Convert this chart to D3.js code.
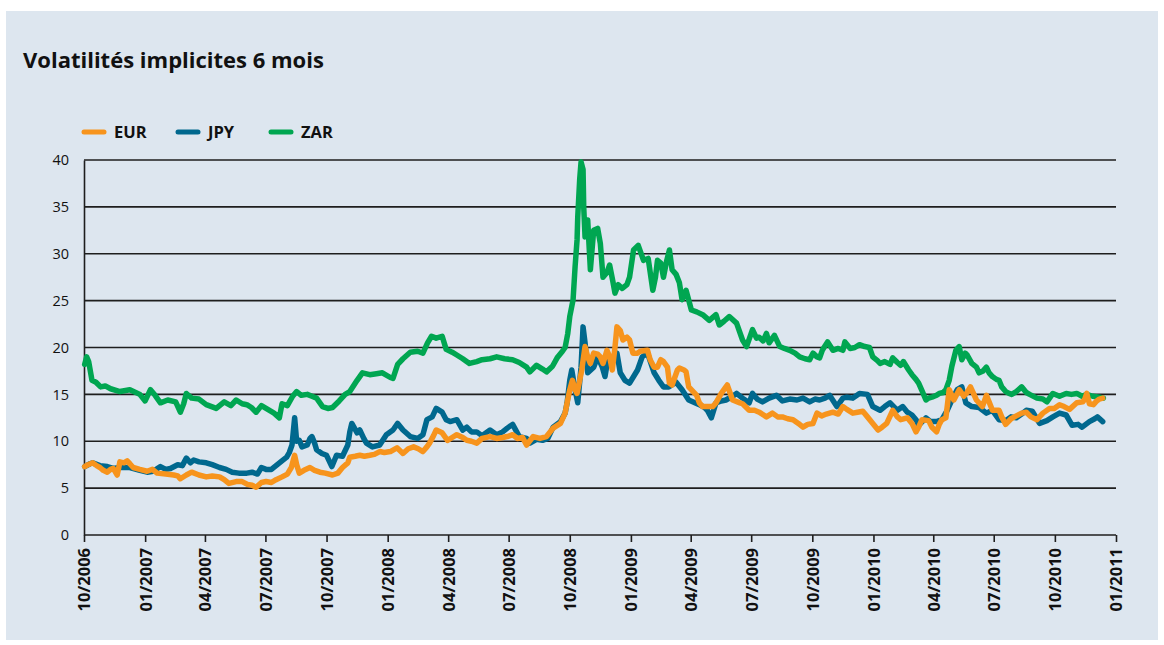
<!DOCTYPE html>
<html><head><meta charset="utf-8">
<script src="https://cdn.jsdelivr.net/npm/d3@7/dist/d3.min.js"></script>
<style>
body{margin:0;background:#fff}
svg{display:block}
text{font-family:"Open Sans","Noto Sans",sans-serif;fill:#111}
</style>
</head><body>
<svg id="chart" width="1164" height="645"></svg>
<script>
const title = "Volatilités implicites 6 mois";
const seriesNames = ["EUR", "JPY", "ZAR"];
const yTickValues = [0, 5, 10, 15, 20, 25, 30, 35, 40];
const xTickDates = ["2006-10-01","2007-01-01","2007-04-01","2007-07-01","2007-10-01","2008-01-01","2008-04-01","2008-07-01","2008-10-01","2009-01-01","2009-04-01","2009-07-01","2009-10-01","2010-01-01","2010-04-01","2010-07-01","2010-10-01","2011-01-01"];
const xTickLabels = ["10/2006","01/2007","04/2007","07/2007","10/2007","01/2008","04/2008","07/2008","10/2008","01/2009","04/2009","07/2009","10/2009","01/2010","04/2010","07/2010","10/2010","01/2011"];

const zar = [
["2006-10-02",18.2],["2006-10-05",19.0],["2006-10-08",18.5],["2006-10-13",16.5],["2006-10-19",16.3],["2006-10-26",15.8],
["2006-11-02",15.9],["2006-11-10",15.6],["2006-11-24",15.3],["2006-12-09",15.5],["2006-12-24",15.0],
["2007-01-01",14.3],["2007-01-09",15.5],["2007-01-16",14.9],["2007-01-24",14.1],["2007-02-04",14.4],["2007-02-16",14.2],["2007-02-23",13.1],["2007-02-28",14.0],
["2007-03-04",15.1],["2007-03-12",14.6],["2007-03-23",14.5],["2007-04-03",13.9],["2007-04-18",13.5],["2007-04-30",14.2],
["2007-05-10",13.8],["2007-05-18",14.4],["2007-05-27",14.0],["2007-06-03",13.9],["2007-06-10",13.6],["2007-06-17",13.1],["2007-06-25",13.8],
["2007-07-02",13.5],["2007-07-14",13.0],["2007-07-22",12.5],["2007-07-26",14.0],["2007-08-03",13.8],["2007-08-11",14.8],["2007-08-17",15.3],["2007-08-24",14.9],
["2007-09-02",15.0],["2007-09-09",14.8],["2007-09-16",14.6],["2007-09-25",13.7],["2007-10-03",13.5],["2007-10-10",13.6],["2007-10-20",14.3],["2007-10-29",15.0],
["2007-11-05",15.3],["2007-11-16",16.5],["2007-11-24",17.3],["2007-12-05",17.1],["2007-12-15",17.2],["2007-12-24",17.3],
["2008-01-05",16.8],["2008-01-09",16.7],["2008-01-16",18.2],["2008-01-24",18.8],["2008-02-04",19.5],["2008-02-15",19.6],["2008-02-23",19.4],
["2008-03-01",20.5],["2008-03-07",21.2],["2008-03-14",21.0],["2008-03-23",21.2],["2008-03-29",19.8],["2008-04-07",19.5],["2008-04-14",19.2],["2008-04-23",18.8],
["2008-05-03",18.3],["2008-05-14",18.5],["2008-05-22",18.7],["2008-06-03",18.8],["2008-06-13",19.0],["2008-06-25",18.8],
["2008-07-07",18.7],["2008-07-17",18.4],["2008-07-28",17.9],["2008-08-02",17.4],["2008-08-12",18.1],["2008-08-21",17.7],["2008-08-27",17.4],
["2008-09-05",18.0],["2008-09-12",18.9],["2008-09-20",19.6],["2008-09-24",20.0],["2008-09-28",21.5],
["2008-10-01",23.3],["2008-10-06",25.1],["2008-10-09",28.6],["2008-10-12",31.5],["2008-10-13",33.9],["2008-10-16",38.0],["2008-10-18",39.8],["2008-10-21",39.0],["2008-10-22",35.0],["2008-10-24",31.8],["2008-10-28",33.6],
["2008-11-01",28.3],["2008-11-06",32.5],["2008-11-12",32.7],["2008-11-16",31.1],["2008-11-20",27.5],["2008-11-26",28.0],["2008-11-30",28.8],
["2008-12-05",27.0],["2008-12-08",25.8],["2008-12-13",26.7],["2008-12-19",26.3],["2008-12-26",26.7],["2008-12-30",27.5],
["2009-01-05",30.4],["2009-01-12",30.9],["2009-01-20",29.3],["2009-01-27",29.5],["2009-02-03",26.1],["2009-02-07",27.5],["2009-02-10",29.3],["2009-02-15",29.0],["2009-02-19",27.5],["2009-02-24",29.3],["2009-02-28",30.4],
["2009-03-04",28.3],["2009-03-10",27.8],["2009-03-15",26.9],["2009-03-19",25.1],["2009-03-25",26.1],["2009-04-02",24.0],["2009-04-10",23.8],["2009-04-19",23.5],["2009-04-29",22.9],
["2009-05-09",23.5],["2009-05-14",22.4],["2009-05-21",22.8],["2009-05-29",23.3],["2009-06-09",22.6],["2009-06-18",20.8],["2009-06-24",20.1],
["2009-07-03",21.9],["2009-07-09",21.0],["2009-07-13",21.1],["2009-07-19",20.7],["2009-07-24",21.5],["2009-07-28",20.5],["2009-08-05",21.3],["2009-08-13",20.1],["2009-08-20",19.9],["2009-08-28",19.7],
["2009-09-05",19.4],["2009-09-12",19.0],["2009-09-20",18.8],["2009-09-27",18.7],["2009-10-02",19.4],["2009-10-08",19.0],["2009-10-12",18.9],["2009-10-16",19.7],["2009-10-24",20.6],
["2009-11-01",19.7],["2009-11-09",19.9],["2009-11-16",19.7],["2009-11-19",20.6],["2009-11-27",19.9],["2009-12-04",20.0],["2009-12-11",20.3],["2009-12-19",20.1],["2009-12-26",20.0],["2009-12-31",19.0],
["2010-01-07",18.6],["2010-01-11",18.3],["2010-01-18",18.5],["2010-01-26",18.2],["2010-01-30",18.9],["2010-02-06",18.4],["2010-02-11",18.1],["2010-02-15",18.5],["2010-02-23",17.6],["2010-02-28",17.1],
["2010-03-06",16.6],["2010-03-10",16.2],["2010-03-15",15.4],["2010-03-21",14.4],["2010-03-25",14.6],["2010-03-30",14.7],["2010-04-06",14.9],["2010-04-10",15.1],["2010-04-16",15.2],["2010-04-20",15.5],["2010-04-25",16.5],["2010-04-29",18.0],
["2010-05-05",19.7],["2010-05-10",20.1],["2010-05-14",18.7],["2010-05-19",19.4],["2010-05-22",19.2],["2010-05-29",18.3],["2010-06-05",17.9],["2010-06-09",17.3],["2010-06-15",17.5],["2010-06-20",17.9],["2010-06-24",17.3],["2010-06-29",16.9],
["2010-07-05",16.6],["2010-07-09",16.5],["2010-07-13",15.8],["2010-07-19",15.3],["2010-07-24",15.1],["2010-07-28",15.0],["2010-08-04",15.3],["2010-08-12",15.8],["2010-08-19",15.2],["2010-08-24",15.0],
["2010-09-04",14.6],["2010-09-13",14.5],["2010-09-19",14.2],["2010-09-28",15.1],["2010-10-08",14.8],["2010-10-18",15.1],["2010-10-26",15.0],["2010-11-03",15.1],["2010-11-11",14.8],["2010-11-18",15.0],["2010-11-27",14.8],["2010-12-07",14.7],["2010-12-13",14.6]
];

const jpy = [
["2006-10-02",7.3],["2006-10-10",7.6],["2006-10-14",7.7],["2006-10-25",7.4],["2006-11-05",7.3],["2006-11-14",7.1],["2006-11-24",7.2],["2006-12-09",7.2],["2006-12-24",6.9],
["2007-01-04",6.7],["2007-01-13",6.8],["2007-01-24",7.3],["2007-02-01",7.0],["2007-02-08",7.1],["2007-02-19",7.5],["2007-02-26",7.4],["2007-03-04",8.2],["2007-03-10",7.7],["2007-03-15",8.0],["2007-03-23",7.8],
["2007-04-03",7.7],["2007-04-12",7.5],["2007-04-23",7.2],["2007-05-03",7.0],["2007-05-12",6.7],["2007-05-22",6.6],["2007-06-03",6.6],["2007-06-11",6.7],["2007-06-19",6.5],["2007-06-25",7.2],
["2007-07-02",7.0],["2007-07-10",7.0],["2007-07-17",7.4],["2007-07-24",7.8],["2007-08-02",8.3],["2007-08-06",8.8],["2007-08-10",9.6],["2007-08-14",12.5],["2007-08-17",10.0],["2007-08-21",10.1],["2007-08-25",9.4],
["2007-09-02",9.6],["2007-09-06",10.3],["2007-09-09",10.5],["2007-09-13",9.8],["2007-09-16",9.1],["2007-09-24",8.7],["2007-10-01",8.5],["2007-10-09",7.3],["2007-10-16",8.5],["2007-10-25",8.4],
["2007-11-02",9.6],["2007-11-05",11.0],["2007-11-08",11.9],["2007-11-16",10.9],["2007-11-20",11.2],["2007-11-26",10.3],["2007-11-30",9.8],["2007-12-09",9.4],["2007-12-20",9.6],["2007-12-30",10.7],
["2008-01-09",11.2],["2008-01-16",11.9],["2008-01-24",11.2],["2008-02-04",10.5],["2008-02-15",10.3],["2008-02-23",10.7],["2008-02-29",12.3],["2008-03-08",12.6],["2008-03-14",13.5],["2008-03-23",13.1],["2008-03-29",12.3],
["2008-04-04",12.1],["2008-04-14",12.3],["2008-04-23",11.2],["2008-04-29",11.5],["2008-05-06",11.0],["2008-05-14",11.0],["2008-05-22",10.6],["2008-06-03",11.2],["2008-06-13",10.7],["2008-06-22",11.0],["2008-06-29",11.4],
["2008-07-07",11.8],["2008-07-17",10.5],["2008-07-28",10.3],["2008-08-02",9.8],["2008-08-12",10.2],["2008-08-21",10.1],["2008-08-29",10.3],["2008-09-06",11.5],["2008-09-17",12.1],["2008-09-24",13.0],["2008-09-27",14.1],
["2008-10-01",16.5],["2008-10-04",17.6],["2008-10-09",15.5],["2008-10-13",14.1],["2008-10-18",17.9],["2008-10-21",22.2],["2008-10-24",20.5],["2008-10-28",17.3],
["2008-11-06",17.9],["2008-11-12",19.0],["2008-11-19",17.9],["2008-11-23",16.9],["2008-11-28",19.0],["2008-12-05",18.5],["2008-12-11",19.4],["2008-12-16",17.3],["2008-12-23",16.5],["2008-12-30",16.2],
["2009-01-11",17.6],["2009-01-18",19.0],["2009-01-26",19.4],["2009-02-05",17.3],["2009-02-12",16.5],["2009-02-19",15.8],["2009-02-27",15.8],["2009-03-10",16.3],["2009-03-19",15.5],["2009-03-29",14.4],
["2009-04-14",13.9],["2009-04-22",13.6],["2009-04-26",13.3],["2009-05-02",12.5],["2009-05-09",14.1],["2009-05-17",14.3],["2009-05-24",14.4],["2009-06-03",14.8],["2009-06-09",15.1],["2009-06-18",14.6],["2009-06-28",14.1],
["2009-07-03",15.1],["2009-07-10",14.5],["2009-07-18",14.2],["2009-07-28",14.6],["2009-08-08",14.9],["2009-08-17",14.3],["2009-08-28",14.5],["2009-09-08",14.4],["2009-09-17",14.6],["2009-09-27",14.2],
["2009-10-05",14.5],["2009-10-12",14.4],["2009-10-20",14.6],["2009-10-27",14.9],["2009-11-07",13.7],["2009-11-16",14.6],["2009-11-22",14.7],["2009-12-01",14.6],["2009-12-11",15.1],["2009-12-23",15.0],["2009-12-31",13.7],
["2010-01-11",13.3],["2010-01-18",13.7],["2010-01-26",14.1],["2010-02-06",13.3],["2010-02-14",13.7],["2010-02-21",13.1],["2010-02-28",12.8],["2010-03-06",12.3],["2010-03-10",11.7],["2010-03-21",12.5],["2010-03-28",12.1],
["2010-04-06",12.1],["2010-04-14",12.3],["2010-04-22",13.3],["2010-04-29",14.4],["2010-05-07",15.5],["2010-05-14",15.8],["2010-05-20",14.1],["2010-05-29",13.7],["2010-06-09",13.6],["2010-06-20",13.0],["2010-06-29",13.3],
["2010-07-09",12.3],["2010-07-19",12.2],["2010-07-27",12.6],["2010-08-04",12.5],["2010-08-12",12.9],["2010-08-19",13.3],["2010-08-28",13.2],["2010-09-08",11.9],["2010-09-19",12.2],["2010-09-28",12.6],
["2010-10-08",13.0],["2010-10-18",12.8],["2010-10-27",11.7],["2010-11-05",11.8],["2010-11-11",11.5],["2010-11-22",12.1],["2010-11-30",12.4],["2010-12-04",12.6],["2010-12-12",12.1]
];

const eur = [
["2006-10-02",7.3],["2006-10-07",7.5],["2006-10-14",7.7],["2006-10-20",7.4],["2006-10-25",7.2],["2006-10-30",6.9],["2006-11-05",6.7],["2006-11-10",7.0],["2006-11-14",7.1],["2006-11-20",6.4],["2006-11-24",7.8],["2006-11-30",7.7],
["2006-12-05",7.9],["2006-12-09",7.6],["2006-12-14",7.2],["2006-12-24",7.0],["2007-01-04",6.8],["2007-01-12",7.0],["2007-01-19",6.6],["2007-02-01",6.5],["2007-02-13",6.4],["2007-02-19",6.3],["2007-02-23",6.0],
["2007-03-04",6.4],["2007-03-12",6.7],["2007-03-23",6.4],["2007-04-03",6.2],["2007-04-12",6.3],["2007-04-23",6.2],["2007-04-30",5.9],["2007-05-07",5.5],["2007-05-18",5.7],["2007-05-27",5.7],
["2007-06-04",5.4],["2007-06-11",5.3],["2007-06-17",5.1],["2007-06-25",5.6],["2007-07-02",5.7],["2007-07-10",5.6],["2007-07-17",5.9],["2007-07-26",6.2],
["2007-08-03",6.5],["2007-08-09",7.2],["2007-08-14",8.5],["2007-08-17",7.5],["2007-08-21",6.6],["2007-08-28",6.9],["2007-09-06",7.2],["2007-09-13",6.9],["2007-09-21",6.7],["2007-09-29",6.6],
["2007-10-10",6.4],["2007-10-18",6.6],["2007-10-25",7.2],["2007-11-02",7.7],["2007-11-05",8.3],["2007-11-13",8.4],["2007-11-20",8.5],["2007-11-27",8.4],["2007-12-05",8.5],["2007-12-12",8.6],["2007-12-20",8.9],["2007-12-27",8.8],
["2008-01-05",8.9],["2008-01-15",9.3],["2008-01-24",8.7],["2008-02-01",9.2],["2008-02-09",9.4],["2008-02-16",9.2],["2008-02-23",8.9],["2008-02-29",9.4],["2008-03-04",9.8],["2008-03-10",10.6],["2008-03-14",11.2],["2008-03-23",10.9],["2008-03-31",10.1],
["2008-04-07",10.4],["2008-04-14",10.7],["2008-04-23",10.4],["2008-04-29",10.1],["2008-05-06",10.0],["2008-05-14",9.8],["2008-05-22",10.3],["2008-06-03",10.5],["2008-06-13",10.3],["2008-06-22",10.4],["2008-06-29",10.5],
["2008-07-07",10.7],["2008-07-14",10.3],["2008-07-22",10.4],["2008-07-28",9.6],["2008-08-07",10.5],["2008-08-17",10.3],["2008-08-27",10.5],["2008-09-06",11.4],["2008-09-17",11.9],["2008-09-24",13.0],["2008-09-27",14.1],
["2008-10-01",15.5],["2008-10-05",16.5],["2008-10-09",15.5],["2008-10-12",15.1],["2008-10-16",16.5],["2008-10-19",17.6],["2008-10-24",20.1],["2008-10-28",19.0],
["2008-11-01",18.3],["2008-11-06",19.4],["2008-11-12",19.3],["2008-11-16",19.0],["2008-11-20",18.3],["2008-11-26",19.7],["2008-11-30",19.0],
["2008-12-04",17.6],["2008-12-08",20.0],["2008-12-11",22.2],["2008-12-16",21.8],["2008-12-20",20.8],["2008-12-26",21.1],["2008-12-30",20.8],
["2009-01-04",19.4],["2009-01-11",19.4],["2009-01-15",19.6],["2009-01-26",19.7],["2009-01-30",18.7],["2009-02-05",17.9],["2009-02-10",17.9],["2009-02-15",18.7],["2009-02-19",18.5],["2009-02-25",17.9],["2009-02-28",16.2],
["2009-03-04",16.0],["2009-03-12",17.6],["2009-03-15",17.8],["2009-03-22",17.6],["2009-03-25",17.4],["2009-03-29",15.8],["2009-04-10",14.9],["2009-04-14",14.1],["2009-04-19",13.7],["2009-04-29",13.7],
["2009-05-04",13.7],["2009-05-09",14.1],["2009-05-17",15.1],["2009-05-24",15.8],["2009-05-26",16.0],["2009-06-03",14.4],["2009-06-14",14.1],["2009-06-18",14.0],["2009-06-28",13.3],
["2009-07-06",13.3],["2009-07-13",13.1],["2009-07-24",12.6],["2009-08-02",13.0],["2009-08-10",12.6],["2009-08-17",12.6],["2009-08-25",12.4],["2009-09-02",12.3],["2009-09-10",11.9],["2009-09-17",11.5],["2009-09-24",11.8],
["2009-10-02",11.9],["2009-10-08",13.0],["2009-10-15",12.7],["2009-10-22",12.9],["2009-11-01",13.1],["2009-11-09",12.9],["2009-11-16",13.7],["2009-11-22",13.4],["2009-12-01",13.0],["2009-12-08",13.1],["2009-12-16",13.2],["2009-12-23",12.6],["2009-12-31",11.9],
["2010-01-08",11.2],["2010-01-14",11.5],["2010-01-21",11.9],["2010-01-30",13.3],["2010-02-06",12.6],["2010-02-11",12.3],["2010-02-21",12.5],["2010-02-28",11.9],["2010-03-06",11.0],["2010-03-10",11.5],["2010-03-15",12.3],["2010-03-25",12.2],["2010-03-30",11.5],
["2010-04-06",11.0],["2010-04-10",11.8],["2010-04-14",12.3],["2010-04-20",12.5],["2010-04-25",15.5],["2010-05-02",14.4],["2010-05-10",15.5],["2010-05-17",14.8],["2010-05-22",15.2],["2010-05-27",15.8],
["2010-06-05",14.4],["2010-06-14",13.7],["2010-06-20",14.9],["2010-06-24",14.2],["2010-06-29",13.3],["2010-07-09",13.3],["2010-07-13",12.6],["2010-07-19",11.8],["2010-07-27",12.4],
["2010-08-04",12.7],["2010-08-12",13.0],["2010-08-19",13.1],["2010-08-26",12.6],["2010-09-04",12.3],["2010-09-13",13.0],["2010-09-23",13.5],["2010-09-30",13.5],
["2010-10-08",13.9],["2010-10-15",13.7],["2010-10-23",13.4],["2010-11-03",14.1],["2010-11-12",14.2],["2010-11-15",14.5],["2010-11-18",15.1],["2010-11-22",14.0],["2010-11-28",13.9],["2010-12-03",14.3],["2010-12-07",14.5],["2010-12-12",14.6]
];

const colors = {EUR: "#f7941d", JPY: "#00688e", ZAR: "#00a651"};
const seriesData = {EUR: eur, JPY: jpy, ZAR: zar};

const parse = d3.timeParse("%Y-%m-%d");
const svg = d3.select("#chart");
const M = {left: 84, right: 1116, top: 160, bottom: 535};
const FONT = '"Open Sans","Noto Sans",sans-serif';

// panel background
svg.append("rect").attr("x", 6).attr("y", 11).attr("width", 1152).attr("height", 629).attr("fill", "#dde6ef");

svg.append("text").attr("x", 23).attr("y", 68)
  .style("font-size", "22px").style("font-weight", "700").text(title);

const x = d3.scaleTime()
  .domain([parse(xTickDates[0]), parse(xTickDates[xTickDates.length - 1])])
  .range([M.left, M.right]);
const y = d3.scaleLinear().domain([0, 40]).range([M.bottom, M.top]);

// gridlines
svg.append("g").selectAll("line").data(yTickValues.filter(v => v > 0)).join("line")
  .attr("x1", M.left).attr("x2", M.right)
  .attr("y1", d => y(d)).attr("y2", d => y(d))
  .attr("stroke", "#1e1e1e").attr("stroke-width", 1.6);

// y axis
const yAxis = svg.append("g").attr("transform", `translate(${M.left},0)`)
  .call(d3.axisLeft(y).tickValues(yTickValues).tickSize(0).tickPadding(15));
yAxis.select(".domain").attr("stroke", "#1e1e1e").attr("stroke-width", 1.6);
yAxis.selectAll("text").style("font-size", "14.5px").style("font-family", FONT).attr("fill", "#111");

// x axis
const xAxis = svg.append("g").attr("transform", `translate(0,${M.bottom})`)
  .call(d3.axisBottom(x).tickValues(xTickDates.map(parse)).tickSize(7)
    .tickFormat((d, i) => xTickLabels[i]));
xAxis.select(".domain").attr("stroke", "#1e1e1e").attr("stroke-width", 1.6).attr("d", `M${M.left},0H${M.right}`);
xAxis.selectAll(".tick line").attr("stroke", "#1e1e1e").attr("stroke-width", 1.6);
xAxis.selectAll("text")
  .style("font-size", "16.5px").style("font-weight", "700")
  .style("font-family", FONT).attr("fill", "#111")
  .attr("text-anchor", "end")
  .attr("transform", "rotate(-90)")
  .attr("x", -13).attr("y", 0).attr("dy", "0.36em");

// lines
const line = d3.line().x(d => x(parse(d[0]))).y(d => y(d[1])).curve(d3.curveLinear);
const drawOrder = ["ZAR", "JPY", "EUR"];
svg.append("g").selectAll("path").data(drawOrder).join("path")
  .attr("d", k => line(seriesData[k]))
  .attr("fill", "none").attr("stroke", k => colors[k])
  .attr("stroke-width", 5.5).attr("stroke-linejoin", "round").attr("stroke-linecap", "round");

// legend
const legendX = [82, 176, 269];
const lg = svg.append("g").selectAll("g").data(seriesNames).join("g")
  .attr("transform", (d, i) => `translate(${legendX[i]},132)`);
lg.append("line").attr("x1", 2).attr("x2", 22).attr("y1", 0).attr("y2", 0)
  .attr("stroke", d => colors[d]).attr("stroke-width", 5).attr("stroke-linecap", "round");
lg.append("text").attr("x", 32).attr("y", 0).attr("dy", "0.36em")
  .style("font-size", "16.5px").style("font-weight", "700").text(d => d);
</script>
</body></html>
